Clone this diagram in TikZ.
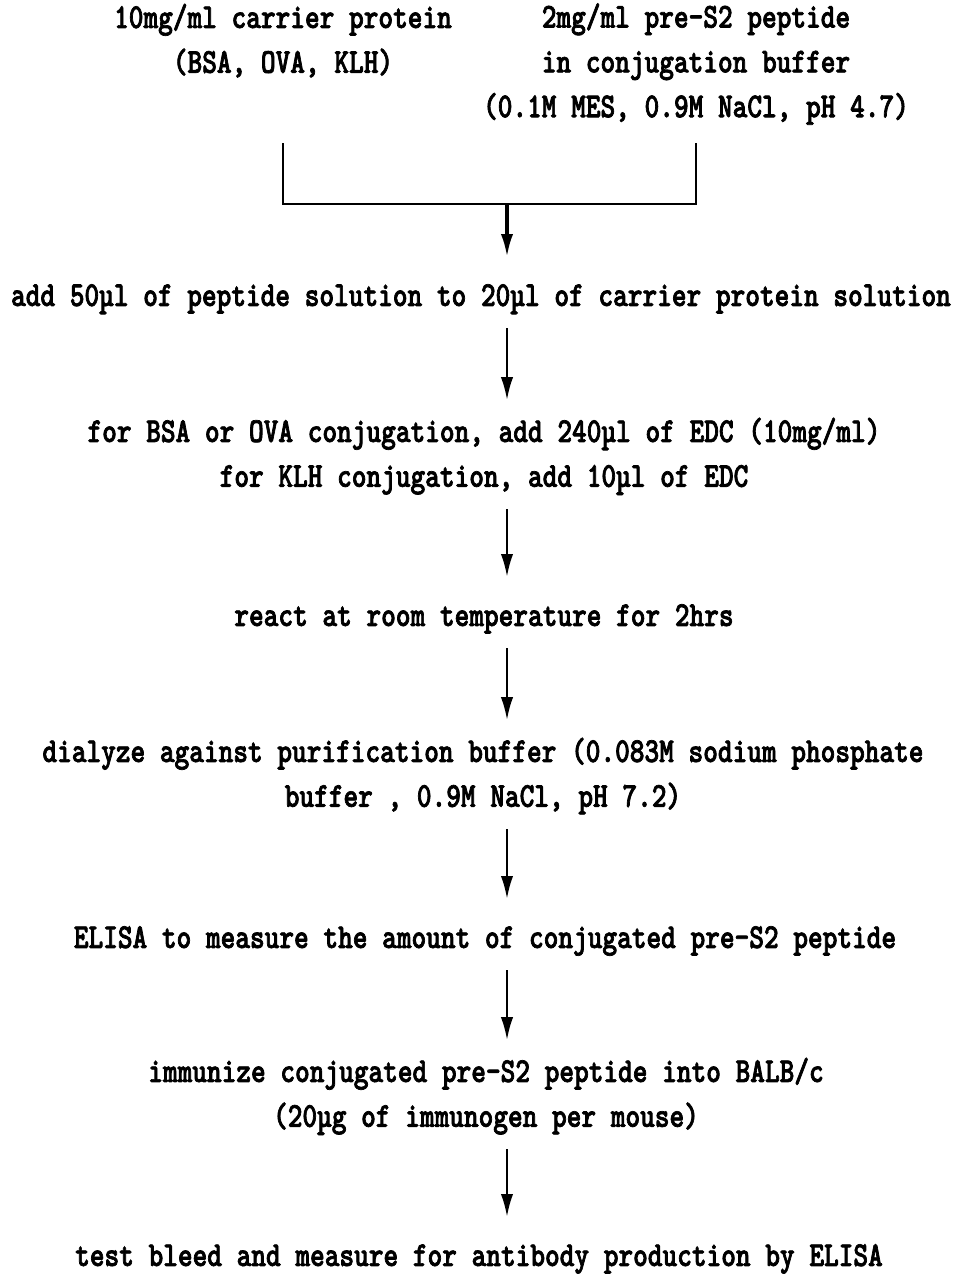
\documentclass[tikz,border=0pt]{standalone}
\usepackage{fontspec}
\setmonofont{lmmono10-regular.otf}[BoldFont=lmmonolt10-bold.otf, FakeStretch=0.8, BoldFeatures={FakeBold=2}]
\usetikzlibrary{arrows.meta}

\begin{document}
\begin{tikzpicture}[x=0.02cm, y=-0.02cm,
    stage/.style={font=\ttfamily\bfseries\fontsize{19.9}{25.5}\selectfont, align=center, inner sep=0pt,
      execute at begin node=\strut, execute at end node=\strut},
    link/.style={line width=1.3pt},
    flow/.style={link, -{Latex[length=13pt, width=7pt]}, shorten <=4.8pt, shorten >=9.9pt}]
    \useasboundingbox (0,0) rectangle (959,1274);
    % starting solutions
    \node[stage] (carrier) at (283,45) {10mg/ml carrier protein\\(BSA, OVA, KLH)};
    \node[stage] (peptide) at (696,67) {2mg/ml pre-S2 peptide\\in conjugation buffer\\(0.1M MES, 0.9M NaCl, pH 4.7)};
    % conjugation steps
    \node[stage] (mix) at (481,297) {add 50µl of peptide solution to 20µl of carrier protein solution};
    \node[stage] (edc) at (484,459) {for BSA or OVA conjugation, add 240µl of EDC (10mg/ml)\\for KLH conjugation, add 10µl of EDC};
    \node[stage] (react) at (484,617) {react at room temperature for 2hrs};
    \node[stage] (dialyze) at (483,779) {dialyze against purification buffer (0.083M sodium phosphate\\buffer , 0.9M NaCl, pH 7.2)};
    \node[stage] (elisa) at (485,939) {ELISA to measure the amount of conjugated pre-S2 peptide};
    \node[stage] (immunize) at (486,1099) {immunize conjugated pre-S2 peptide into BALB/c\\(20µg of immunogen per mouse)};
    \node[stage] (bleed) at (479,1257) {test bleed and measure for antibody production by ELISA};
    % bracket and arrows
    \coordinate (axis) at (507,0);
    \coordinate (top) at (0,143);
    \coordinate (merge) at (507,204);
    \draw[link] (carrier.south |- top) |- (merge) -| (peptide.south |- top);
    \draw[flow, line width=1.8pt, shorten <=0pt] (merge) -- (mix.north -| merge);
    \foreach \a/\b in {mix/edc, edc/react, react/dialyze, dialyze/elisa, elisa/immunize, immunize/bleed}
      \draw[flow] (\a.south -| axis) -- (\b.north -| axis);
\end{tikzpicture}
\end{document}
